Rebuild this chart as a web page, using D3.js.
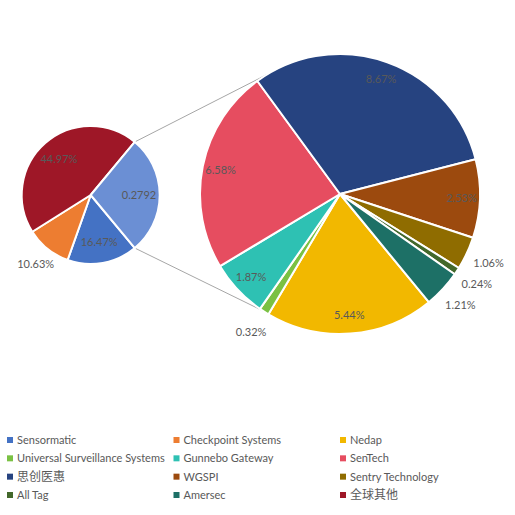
<!DOCTYPE html>
<html>
<head>
<meta charset="utf-8">
<script src="https://cdn.jsdelivr.net/npm/d3@7"></script>
<style>
  body { margin: 0; background: #fff; }
  svg text { font-family: Lato, "Open Sans", "Noto Sans CJK SC", sans-serif; }
</style>
</head>
<body>
<svg id="chart" width="515" height="515"></svg>
<script>
// legend / series order
const names = ['Sensormatic', 'Checkpoint Systems', 'Nedap', 'Universal Surveillance Systems',
    'Gunnebo Gateway', 'SenTech', '思创医惠', 'WGSPI', 'Sentry Technology',
    'All Tag', 'Amersec', '全球其他'];
const shares = [16.47, 10.63, 5.44, 0.32, 1.87, 6.58, 8.67, 2.53, 1.06, 0.24, 1.21, 44.97];
const colors = ['#4472C4', '#ED7D31', '#F2B800', '#7AC143', '#2EC1B3', '#E64D60',
    '#264380', '#9C4A0E', '#8F6C00', '#43682B', '#1D7066', '#9E1727'];
// which series are split off into the second pie
const secondNames = ['Nedap', 'Universal Surveillance Systems', 'Gunnebo Gateway', 'SenTech',
    '思创医惠', 'WGSPI', 'Sentry Technology', 'All Tag', 'Amersec'];
const otherLabel = '0.2792';
const otherColor = '#6B8FD4';

const rows = names.map((n, i) => ({ name: n, value: shares[i], color: colors[i] }));
const second = rows.filter(d => secondNames.includes(d.name));
const otherTotal = d3.sum(second, d => d.value);
const first = rows.filter(d => !secondNames.includes(d.name))
    .concat([{ name: 'Other', value: otherTotal, color: otherColor, other: true }]);

const svg = d3.select('#chart');
const deg = Math.PI / 180;
const textColor = '#595959';

const main = { cx: 90.7, cy: 195, r: 69 };
const sub = { cx: 340, cy: 194, r: 140 };

// first pie: the "Other" slice is centred at 3 o'clock
const otherAngle = otherTotal / d3.sum(first, d => d.value) * 2 * Math.PI;
const pie1 = d3.pie().sort(null).value(d => d.value)
    .startAngle(Math.PI / 2 + otherAngle / 2)
    .endAngle(Math.PI / 2 + otherAngle / 2 + 2 * Math.PI);
const arcs1 = pie1(first);

const pie2 = d3.pie().sort(null).value(d => d.value)
    .startAngle(140.6 * deg).endAngle(140.6 * deg + 2 * Math.PI);
const arcs2 = pie2(second);

// connector lines between the pies
const otherArc = arcs1.find(d => d.data.other);
const onCircle = (c, a) => [c.cx + c.r * Math.sin(a), c.cy - c.r * Math.cos(a)];
const links = [
    [onCircle(main, otherArc.startAngle), onCircle(sub, 328.7 * deg)],
    [onCircle(main, otherArc.endAngle), onCircle(sub, 213.5 * deg)]
];
svg.append('g')
    .selectAll('line')
    .data(links)
    .join('line')
    .attr('x1', d => d[0][0]).attr('y1', d => d[0][1])
    .attr('x2', d => d[1][0]).attr('y2', d => d[1][1])
    .attr('stroke', '#a6a6a6')
    .attr('stroke-width', 1);

function drawPie(arcs, c, inFrac, outPad, labelText) {
    const arc = d3.arc().innerRadius(0).outerRadius(c.r);
    const g = svg.append('g').attr('transform', `translate(${c.cx},${c.cy})`);
    g.selectAll('path')
        .data(arcs)
        .join('path')
        .attr('d', arc)
        .attr('fill', d => d.data.color)
        .attr('stroke', 'white')
        .attr('stroke-width', 2)
        .attr('stroke-linejoin', 'round');

    g.selectAll('text')
        .data(arcs)
        .join('text')
        .attr('transform', d => {
            const a = (d.startAngle + d.endAngle) / 2;
            const span = (d.endAngle - d.startAngle) * c.r * inFrac;
            const rr = span < 40 ? c.r + outPad : c.r * inFrac;
            return `translate(${rr * Math.sin(a)},${-rr * Math.cos(a)})`;
        })
        .attr('text-anchor', 'middle')
        .attr('dy', '0.35em')
        .attr('font-size', 11)
        .attr('fill', textColor)
        .text(labelText);
}

drawPie(arcs1, main, 0.7, 19, d => d.data.other ? otherLabel : d.data.value.toFixed(2) + '%');
drawPie(arcs2, sub, 0.87, 24, d => d.data.value.toFixed(2) + '%');

// legend, three columns, row-major
const colX = d3.scalePoint().domain([0, 1, 2]).range([7, 340]);
const rowY = d3.scalePoint().domain([0, 1, 2, 3]).range([440, 495]);
const leg = svg.append('g')
    .selectAll('g')
    .data(rows)
    .join('g')
    .attr('transform', (d, i) => `translate(${colX(i % 3)},${rowY(Math.floor(i / 3))})`);
leg.append('rect')
    .attr('x', 0).attr('y', -3)
    .attr('width', 6).attr('height', 6)
    .attr('fill', d => d.color);
leg.append('text')
    .attr('x', 10)
    .attr('dy', '0.35em')
    .attr('font-size', d => /[\u4e00-\u9fff]/.test(d.name) ? 12 : 11)
    .attr('fill', textColor)
    .text(d => d.name);
</script>
</body>
</html>
